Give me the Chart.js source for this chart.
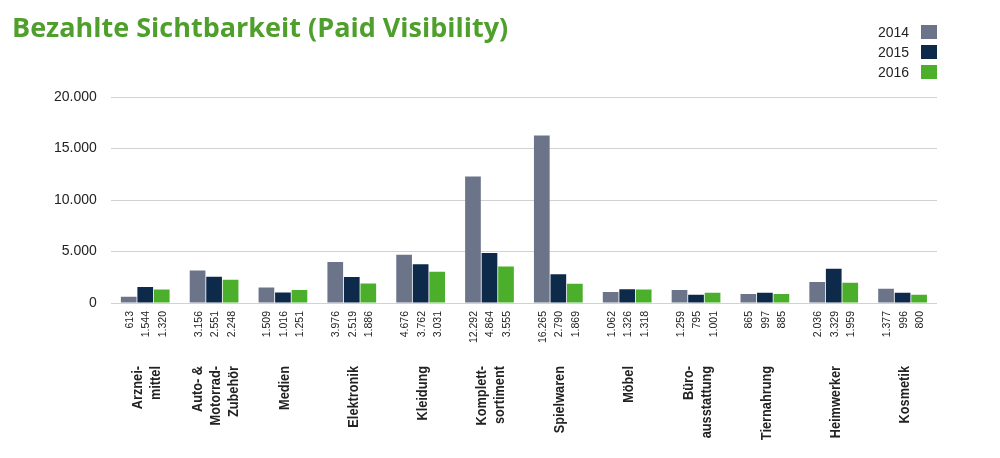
<!DOCTYPE html>
<html><head><meta charset="utf-8">
<script src="https://cdn.jsdelivr.net/npm/chart.js@4/dist/chart.umd.min.js"></script>
<style>
body{margin:0;background:#fff;font-family:'Liberation Sans Narrow','Liberation Sans',sans-serif}
#wrap{position:relative;width:1000px;height:458px}
#title{position:absolute;left:12px;top:8px;color:#4e9f2b;font:bold 27px 'Open Sans',sans-serif}
#legend{position:absolute;left:878px;top:22px;font-size:14px;color:#222}
#legend div{height:20px;display:flex;align-items:center}
#legend span{display:inline-block;width:16px;height:14px;margin-left:12px}
</style></head><body>
<div id="wrap">
<div id="title">Bezahlte Sichtbarkeit (Paid Visibility)</div>
<div id="legend">
<div>2014<span style="background:#6b7489"></span></div>
<div>2015<span style="background:#0e2a4b"></span></div>
<div>2016<span style="background:#4caf2c"></span></div>
</div>
<canvas id="c" width="1000" height="458"></canvas>
</div>
<script>
// categories, text lines each
const categories = [["Arznei-","mittel"],["Auto- &","Motorrad-","Zubehör"],["Medien"],["Elektronik"],["Kleidung"],["Komplett-","sortiment"],["Spielwaren"],["Möbel"],["Büro-","ausstattung"],["Tiernahrung"],["Heimwerker"],["Kosmetik"]];
const years = ["2014","2015","2016"];
const v2014 = [613,3156,1509,3976,4676,12292,16265,1062,1259,865,2036,1377];
const v2015 = [1544,2551,1016,2519,3762,4864,2790,1326,795,997,3329,996];
const v2016 = [1320,2248,1251,1886,3031,3555,1869,1318,1001,885,1959,800];
const colors = ["#6b7489","#0e2a4b","#4caf2c"];

const fmt = n => n.toLocaleString('de-DE');

const underLabels = {
  id:'underLabels',
  afterDraw(chart){
    const ctx = chart.ctx;
    ctx.save();
    ctx.fillStyle = '#222';
    chart.data.datasets.forEach((ds,di)=>{
      chart.getDatasetMeta(di).data.forEach((bar,i)=>{
        ctx.save();
        ctx.translate(bar.x+4, 311);
        ctx.rotate(-Math.PI/2);
        ctx.font = '10.5px "Liberation Sans Narrow", sans-serif';
        ctx.textAlign = 'right';
        ctx.fillText(fmt(ds.data[i]),0,0);
        ctx.restore();
      });
    });
    const xs = chart.scales.x;
    categories.forEach((lines,i)=>{
      const cx = xs.getPixelForValue(i);
      const lh = 18;
      const x0 = cx - (lines.length-1)*lh/2 + 6;
      lines.forEach((t,k)=>{
        ctx.save();
        ctx.translate(x0 + k*lh, 366);
        ctx.rotate(-Math.PI/2);
        ctx.scale(0.85,1);
        ctx.font = 'bold 15px "Liberation Sans Narrow", sans-serif';
        ctx.textAlign = 'right';
        ctx.fillText(t,0,0);
        ctx.restore();
      });
    });
    ctx.restore();
  }
};

new Chart('c', {
  type:'bar',
  data:{
    labels: categories.map(c=>c.join(' ')),
    datasets:[
      {label:years[0], data:v2014, backgroundColor:colors[0]},
      {label:years[1], data:v2015, backgroundColor:colors[1]},
      {label:years[2], data:v2016, backgroundColor:colors[2]}
    ]
  },
  options:{
    responsive:false, animation:false,
    layout:{padding:{top:97,bottom:147,left:40,right:63}},
    datasets:{bar:{categoryPercentage:0.72,barPercentage:0.95}},
    plugins:{legend:{display:false},tooltip:{enabled:false}},
    scales:{
      x:{ticks:{display:false},grid:{display:false},border:{display:false}},
      y:{min:0,max:20000,
         ticks:{stepSize:5000,padding:14,color:'#222',font:{size:14,family:'"Liberation Sans Narrow", sans-serif'},callback:v=>fmt(v)},
         grid:{color:'#cfd3d6',drawTicks:false},border:{display:false}}
    }
  },
  plugins:[underLabels]
});
</script>
</body></html>
